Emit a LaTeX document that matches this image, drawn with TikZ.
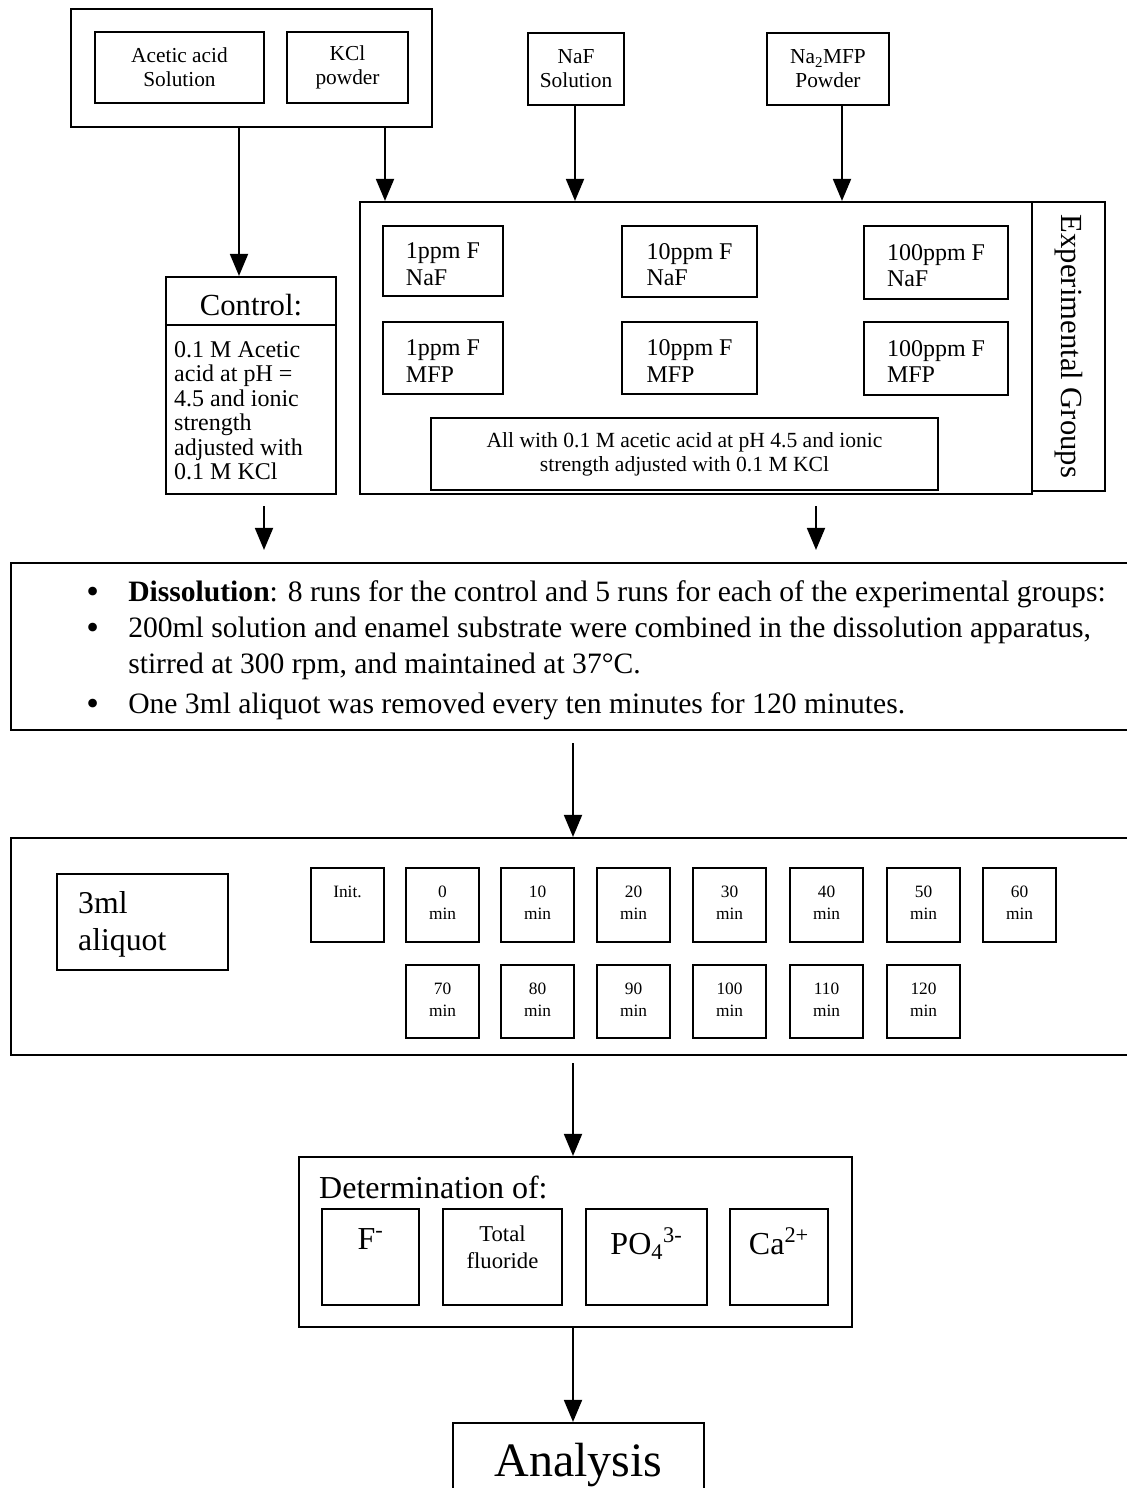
\documentclass[tikz,border=0pt]{standalone}
\usepackage{fontspec}
\setmainfont{Liberation Serif}
\usetikzlibrary{arrows.meta,fit,calc}
\newcommand\myfA{\fontsize{16pt}{18pt}\selectfont}
\newcommand\myfB{\fontsize{18pt}{20pt}\selectfont}
\newcommand\myfC{\fontsize{16.2pt}{18pt}\selectfont}
\newcommand\myfD{\fontsize{18pt}{18.4pt}\selectfont}
\newcommand\myfE{\fontsize{23pt}{26pt}\selectfont}
\newcommand\myfF{\fontsize{22.2pt}{27pt}\selectfont}
\newcommand\myfG{\fontsize{23.8pt}{27.75pt}\selectfont}
\newcommand\myfH{\fontsize{13pt}{16.5pt}\selectfont}
\newcommand\myfI{\fontsize{24pt}{26pt}\selectfont}
\newcommand\myfJ{\fontsize{17pt}{20pt}\selectfont}
\newcommand\myfK{\fontsize{36pt}{40pt}\selectfont}
\newcommand\mybul{\makebox[31.5pt][l]{\smash{\raisebox{-0.09em}{\scalebox{1.22}{\textbullet}}}}}
\begin{document}
\begin{tikzpicture}[x=0.75pt,y=-0.75pt,
  bx/.style={draw, line width=1.6pt, inner sep=0pt},
  txt/.style={inner sep=0pt, align=center},
  ltxt/.style={inner sep=0pt, align=left},
  arr/.style={line width=1.4pt, -{Triangle[length=16.5pt,width=13.5pt]}}]
\clip (0,0) rectangle (1127,1488);
\fill[white] (0,0) rectangle (1127,1488);
% x positions of connectors
\coordinate (xa) at (239,0);
\coordinate (xk) at (385,0);
\coordinate (xn) at (575,0);
\coordinate (xm) at (842,0);
\coordinate (xb) at (264,0);
\coordinate (xe) at (816,0);
\coordinate (xc) at (573,0);
% top group
\node[bx, fit={(71,9)(432,127)}] (topgrp) {};
\node[bx, fit={(95,32)(264,103)}] (acetic) {};
\node[txt, font=\myfA] (aceticT) at (acetic) {Acetic acid\\Solution};
\node[bx, fit={(287,32)(408,103)}] (kcl) {};
\node[txt, font=\myfA] (kclT) at (kcl) {KCl\\powder};
\node[bx, fit={(528,33)(624,105)}] (naf) {};
\node[txt, font=\myfA] (nafT) at (naf) {NaF\\Solution};
\node[bx, fit={(767,33)(889,105)}] (mfp) {};
\node[txt, font=\myfA] (mfpT) at (mfp) {Na\textsubscript{2}MFP\\Powder};
% experimental groups
\node[bx, fit={(360,202)(1032,494)}] (exp) {};
\node[bx, fit={(1032,202)(1105,491)}] (expl) {};
\node[txt, rotate=-90, font=\myfE] (explT) at (expl) {Experimental Groups};
\node[bx, fit={(383,226)(503,296)}] (n1) {};
\node[ltxt, font=\myfB] (n1T) at ($(n1)+(0,3)$) {1ppm F\\NaF};
\node[bx, fit={(622,226)(757,297)}] (n2) {};
\node[ltxt, font=\myfB] (n2T) at ($(n2)+(0,3)$) {10ppm F\\NaF};
\node[bx, fit={(864,226)(1008,299)}] (n3) {};
\node[ltxt, font=\myfB] (n3T) at ($(n3)+(0,3)$) {100ppm F\\NaF};
\node[bx, fit={(383,322)(503,394)}] (m1) {};
\node[ltxt, font=\myfB] (m1T) at ($(m1)+(0,3)$) {1ppm F\\MFP};
\node[bx, fit={(622,322)(757,394)}] (m2) {};
\node[ltxt, font=\myfB] (m2T) at ($(m2)+(0,3)$) {10ppm F\\MFP};
\node[bx, fit={(864,322)(1008,395)}] (m3) {};
\node[ltxt, font=\myfB] (m3T) at ($(m3)+(0,3)$) {100ppm F\\MFP};
\node[bx, fit={(431,418)(938,490)}] (allw) {};
\node[txt, font=\myfC] (allwT) at (allw) {All with 0.1 M acetic acid at pH 4.5 and ionic\\strength adjusted with 0.1 M KCl};
% control
\node[bx, fit={(166,277)(336,494)}] (ctrl) {};
\draw[line width=1.6pt] ($(ctrl.north west)+(0,49)$) -- ($(ctrl.north east)+(0,49)$);
\node[txt, anchor=base, font=\myfE] (ctrlH) at ($(ctrl.north)+(0,40)$) {Control:};
\node[ltxt, anchor=north west, font=\myfD] (ctrlT) at ($(ctrl.north west)+(9,65)$) {0.1 M Acetic\\acid at pH =\\4.5 and ionic\\strength\\adjusted with\\0.1 M KCl};
% dissolution
\node[bx, fit={(11,563)(1140,730)}] (diss) {};
\node[ltxt, anchor=north west, font=\myfF] (dissT) at (86,580) {%
\mybul\textbf{Dissolution}: 8 runs for the control and 5 runs for each of the experimental groups:\\
\mybul 200ml solution and enamel substrate were combined in the dissolution apparatus,\\
\hspace*{31.5pt}stirred at 300 rpm, and maintained at 37°C.\\[3pt]
\mybul One 3ml aliquot was removed every ten minutes for 120 minutes.};
% aliquot
\node[bx, fit={(11,838)(1140,1055)}] (aliq) {};
\node[bx, fit={(57,874)(228,970)}] (three) {};
\node[ltxt, anchor=west, font=\myfG] (threeT) at ($(three.west)+(22,2)$) {3ml\\aliquot};
\node[bx, fit={(311,868)(384,942)}] (tinit) {};
\node[txt, anchor=north, font=\myfH] (tinitT) at ($(tinit.north)+(0,19)$) {Init.};
\foreach \xl/\t [count=\i] in {406/0,501/10,597/20,693/30,790/40,887/50,983/60} {
  \node[bx, fit={(\xl,868)(\xl+73,942)}] (ta\i) {};
  \node[txt, anchor=north, font=\myfH] (ta\i T) at ($(ta\i.north)+(0,19)$) {\t\\min};
}
\foreach \xl/\t [count=\i] in {406/70,501/80,597/90,693/100,790/110,887/120} {
  \node[bx, fit={(\xl,965)(\xl+73,1038)}] (tb\i) {};
  \node[txt, anchor=north, font=\myfH] (tb\i T) at ($(tb\i.north)+(0,19)$) {\t\\min};
}
% determination
\node[bx, fit={(299,1157)(852,1327)}] (det) {};
\node[ltxt, anchor=base west, font=\myfI] (detT) at ($(det.north west)+(21,43)$) {Determination of:};
\node[bx, fit={(322,1209)(419,1305)}] (dF) {};
\node[txt, anchor=north, font=\myfI] (dFT) at ($(dF.north)+(0,20)$) {F\textsuperscript{-}};
\node[bx, fit={(443,1209)(562,1305)}] (dT) {};
\node[txt, anchor=north, font=\myfJ] (dTT) at ($(dT.north)+(0,18)$) {Total\\fluoride};
\node[bx, fit={(586,1209)(707,1305)}] (dP) {};
\node[txt, anchor=north, font=\myfI] (dPT) at ($(dP.north)+(0,19)$) {PO\textsubscript{4}\textsuperscript{3-}};
\node[bx, fit={(730,1209)(828,1305)}] (dC) {};
\node[txt, anchor=north, font=\myfI] (dCT) at ($(dC.north)+(0,19)$) {Ca\textsuperscript{2+}};
% analysis
\node[bx, fit={(453,1423)(704,1510)}] (ana) {};
\node[txt, anchor=base, font=\myfK] (anaT) at ($(ana.north)+(0,55)$) {Analysis};
% connectors
\draw[arr] (topgrp.south -| xa) -- (ctrl.north -| xa);
\draw[arr] (topgrp.south -| xk) -- (exp.north -| xk);
\draw[arr] (naf.south -| xn) -- (exp.north -| xn);
\draw[arr] (mfp.south -| xm) -- (exp.north -| xm);
\draw[arr] ($(ctrl.south -| xb)+(0,11)$) -- ($(diss.north -| xb)+(0,-12)$);
\draw[arr] ($(exp.south -| xe)+(0,11)$) -- ($(diss.north -| xe)+(0,-12)$);
\draw[arr] ($(diss.south -| xc)+(0,12)$) -- (aliq.north -| xc);
\draw[arr] ($(aliq.south -| xc)+(0,7)$) -- (det.north -| xc);
\draw[arr] (det.south -| xc) -- (ana.north -| xc);
\end{tikzpicture}
\end{document}
